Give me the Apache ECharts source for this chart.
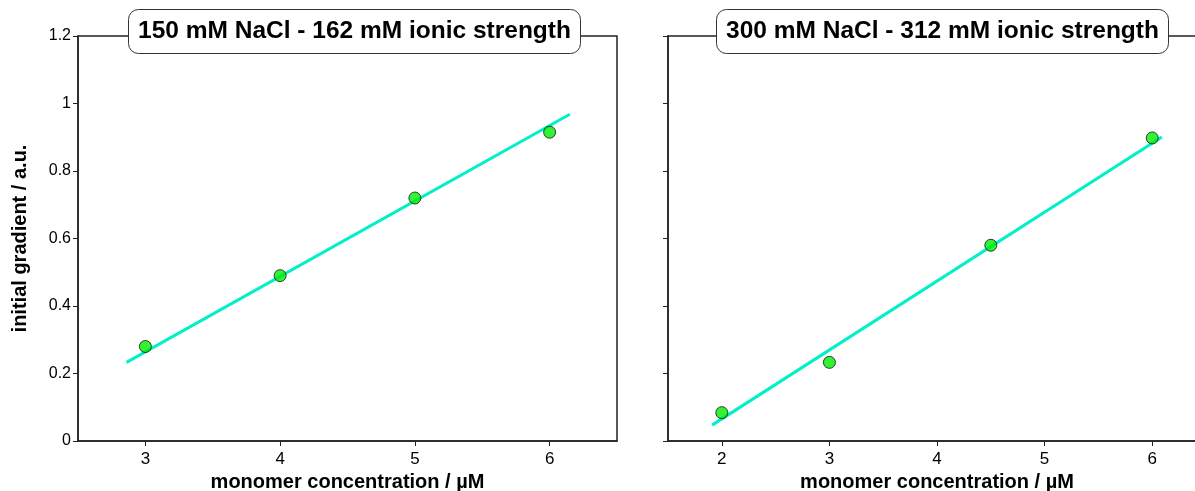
<!DOCTYPE html>
<html>
<head>
<meta charset="utf-8">
<script src="https://cdn.jsdelivr.net/npm/echarts@6/dist/echarts.min.js"></script>
<style>
  html, body { margin: 0; padding: 0; background: #fff; }
  #chart { width: 1195px; height: 491px; }
</style>
</head>
<body>
<div id="chart"></div>
<script>
const titles = ['150 mM NaCl - 162 mM ionic strength', '300 mM NaCl - 312 mM ionic strength'];
const conc150 = [3, 4, 5, 6];
const grad150 = [0.28, 0.49, 0.72, 0.915];
const fitX150 = [2.86, 6.15];
const fitY150 = [0.233, 0.968];
const conc300 = [2, 3, 4.5, 6];
const grad300 = [0.084, 0.233, 0.58, 0.898];
const fitX300 = [1.91, 6.09];
const fitY300 = [0.047, 0.901];
const xTicks150 = [3, 4, 5, 6];
const xTicks300 = [2, 3, 4, 5, 6];
const xLabel = 'monomer concentration / µM';
const yLabel = 'initial gradient / a.u.';

const pairs = (xs, ys) => xs.map((x, i) => [x, ys[i]]);
const font = 'Liberation Sans, Arial, sans-serif';
const axisCol = '#222';

const chart = echarts.init(document.getElementById('chart'));

function xAxis(idx) {
    const ticks = idx === 0 ? xTicks150 : xTicks300;
    return {
        type: 'value', gridIndex: idx,
        min: idx === 0 ? 2.5 : 1.5, max: 6.5, interval: 0.5,
        name: xLabel, nameLocation: 'middle', nameGap: 29,
        nameTextStyle: { fontFamily: font, fontSize: 20, fontWeight: 'bold', color: '#000' },
        axisLine: { show: true, lineStyle: { color: axisCol, width: 1.5 } },
        axisTick: { show: true, length: 5, customValues: ticks, lineStyle: { color: axisCol } },
        axisLabel: {
            customValues: ticks,
            fontFamily: font, fontSize: 17, color: '#000', margin: 10
        },
        splitLine: { show: false }
    };
}

function yAxis(idx) {
    return {
        type: 'value', gridIndex: idx,
        min: 0, max: 1.2, interval: 0.2,
        name: idx === 0 ? yLabel : '', nameLocation: 'middle', nameGap: 48,
        nameTextStyle: { fontFamily: font, fontSize: 20, fontWeight: 'bold', color: '#000' },
        axisLine: { show: true, lineStyle: { color: axisCol, width: 1.5 } },
        axisTick: { show: true, length: 5, lineStyle: { color: axisCol } },
        axisLabel: {
            show: idx === 0, fontFamily: font, fontSize: 16, color: '#000', margin: 7,
            formatter: v => String(+v.toFixed(1))
        },
        splitLine: { show: false }
    };
}

function titleBox(text, left) {
    return {
        text: text, left: left, top: 9,
        padding: [10, 10, 10, 10],
        backgroundColor: '#fff', borderColor: '#333', borderWidth: 1, borderRadius: 10,
        textStyle: { fontFamily: font, fontSize: 24.5, fontWeight: 'bold', color: '#000' }
    };
}

const fitLine = (idx, data) => ({
    type: 'line', xAxisIndex: idx, yAxisIndex: idx, data: data,
    showSymbol: false, symbol: 'none', z: 2,
    lineStyle: { color: '#00f0c8', width: 3 }
});

const points = (idx, data) => ({
    type: 'scatter', xAxisIndex: idx, yAxisIndex: idx, data: data,
    symbol: 'circle', symbolSize: 12, z: 3,
    itemStyle: { color: '#00ee00', borderColor: '#111', borderWidth: 1 }
});

const gridBase = {
    top: 36, bottom: 50, show: true, borderColor: axisCol, borderWidth: 1.5,
    backgroundColor: 'transparent', containLabel: false, outerBoundsMode: 'none'
};

chart.setOption({
    animation: false,
    backgroundColor: '#fff',
    title: [titleBox(titles[0], 128), titleBox(titles[1], 716)],
    grid: [
        Object.assign({ left: 78, right: 578 }, gridBase),
        Object.assign({ left: 668, right: -11 }, gridBase)
    ],
    xAxis: [xAxis(0), xAxis(1)],
    yAxis: [yAxis(0), yAxis(1)],
    series: [
        fitLine(0, pairs(fitX150, fitY150)),
        points(0, pairs(conc150, grad150)),
        fitLine(1, pairs(fitX300, fitY300)),
        points(1, pairs(conc300, grad300))
    ]
});
</script>
</body>
</html>
